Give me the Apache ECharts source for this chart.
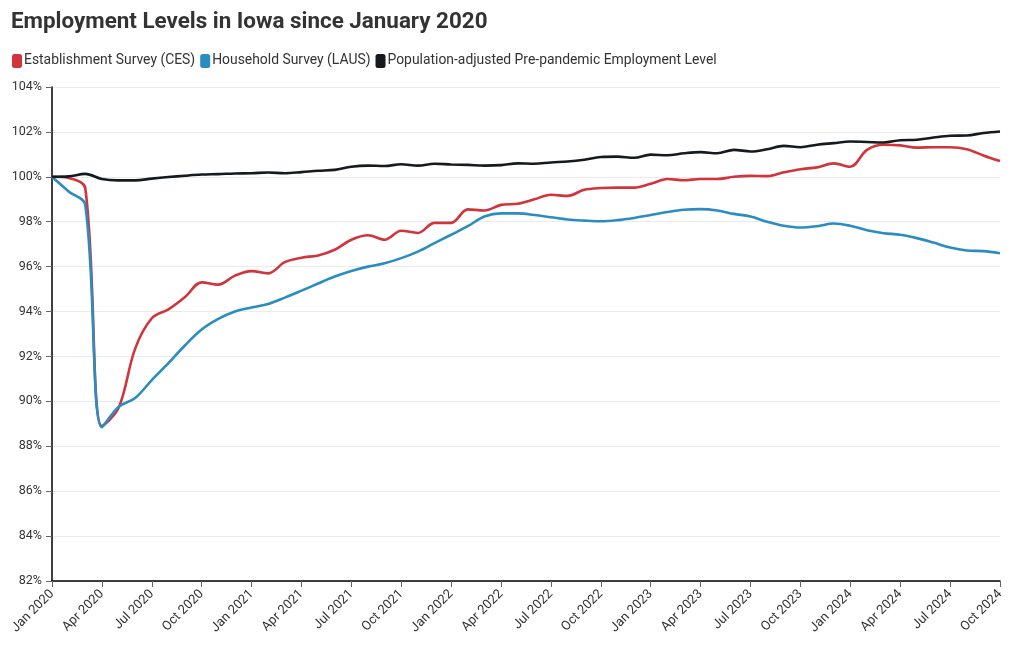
<!DOCTYPE html>
<html><head><meta charset="utf-8">
<script src="https://cdn.jsdelivr.net/npm/echarts@6/dist/echarts.min.js"></script>
<style>html,body{margin:0;padding:0;background:#fff}#c{width:1020px;height:650px}</style>
</head><body><div id="c"></div>
<script>
const months = ["Jan 2020","Feb 2020","Mar 2020","Apr 2020","May 2020","Jun 2020","Jul 2020","Aug 2020","Sep 2020","Oct 2020","Nov 2020","Dec 2020",
"Jan 2021","Feb 2021","Mar 2021","Apr 2021","May 2021","Jun 2021","Jul 2021","Aug 2021","Sep 2021","Oct 2021","Nov 2021","Dec 2021",
"Jan 2022","Feb 2022","Mar 2022","Apr 2022","May 2022","Jun 2022","Jul 2022","Aug 2022","Sep 2022","Oct 2022","Nov 2022","Dec 2022",
"Jan 2023","Feb 2023","Mar 2023","Apr 2023","May 2023","Jun 2023","Jul 2023","Aug 2023","Sep 2023","Oct 2023","Nov 2023","Dec 2023",
"Jan 2024","Feb 2024","Mar 2024","Apr 2024","May 2024","Jun 2024","Jul 2024","Aug 2024","Sep 2024","Oct 2024"];

const ces = [100.0,99.95,99.5,88.9,89.7,92.35,93.7,94.1,94.65,95.3,95.2,95.6,
95.8,95.7,96.2,96.4,96.5,96.75,97.2,97.4,97.2,97.6,97.5,97.95,
97.95,98.55,98.5,98.75,98.8,99.0,99.2,99.15,99.42,99.5,99.52,99.52,
99.69,99.9,99.85,99.9,99.9,100.0,100.04,100.03,100.2,100.34,100.42,100.6,
100.45,101.2,101.43,101.4,101.3,101.32,101.32,101.23,100.95,100.7];

const laus = [100.0,99.35,98.75,88.85,89.75,90.15,90.95,91.7,92.5,93.2,93.67,94.0,
94.18,94.34,94.62,94.93,95.25,95.56,95.81,96.0,96.15,96.38,96.67,97.05,
97.42,97.8,98.23,98.37,98.37,98.3,98.2,98.1,98.05,98.02,98.07,98.17,
98.3,98.43,98.53,98.56,98.5,98.35,98.23,98.0,97.82,97.74,97.8,97.92,
97.82,97.62,97.49,97.42,97.27,97.07,96.85,96.72,96.69,96.6];

const baseline = [100.0,100.02,100.13,99.9,99.84,99.84,99.92,99.99,100.05,100.1,100.12,100.15,
100.16,100.19,100.16,100.21,100.27,100.31,100.45,100.5,100.48,100.56,100.5,100.58,
100.55,100.53,100.5,100.52,100.6,100.58,100.64,100.68,100.76,100.88,100.9,100.85,
100.99,100.96,101.05,101.1,101.05,101.2,101.13,101.23,101.38,101.32,101.43,101.5,
101.57,101.55,101.53,101.63,101.65,101.75,101.83,101.84,101.95,102.02];

const seriesNames = ["Establishment Survey (CES)","Household Survey (LAUS)","Population-adjusted Pre-pandemic Employment Level"];
const colors = ["#d1343b","#2b8cc2","#161a1f"];
const yTicks = {min:82, max:104, step:2};

const chart = echarts.init(document.getElementById('c'), null, {renderer:'canvas'});
const font = 'Roboto, "Noto Sans", sans-serif';
const mk = (name, data, color) => ({
  name, type:'line', data, smooth:0.35, symbol:'none',
  lineStyle:{width:2.6, color}, itemStyle:{color}, z: 3
});
chart.setOption({
  animation:false,
  textStyle:{fontFamily:font},
  title:{text:"Employment Levels in Iowa since January 2020", left:6, top:6,
    textStyle:{fontFamily:font, fontSize:22.4, fontWeight:'bold', color:'#333'}},
  legend:{left:7, top:49, icon:'roundRect', itemWidth:10, itemHeight:14, itemGap:5,
    textStyle:{fontFamily:font, fontSize:13.9, color:'#333', padding:[0,0,0,-3]},
    data:seriesNames},
  grid:{left:52, right:20, top:87, bottom:69, containLabel:false},
  xAxis:{type:'category', data:months, boundaryGap:false,
    axisLine:{lineStyle:{color:'#000', width:1.5}},
    axisTick:{interval:2, length:6, lineStyle:{color:'#666'}},
    axisLabel:{interval:2, rotate:45, fontSize:13, color:'#333', margin:11, fontFamily:font},
    splitLine:{show:false}},
  yAxis:{type:'value', min:yTicks.min, max:yTicks.max, interval:yTicks.step,
    axisLine:{show:true, lineStyle:{color:'#000', width:1.5}},
    axisTick:{show:true, length:6, lineStyle:{color:'#666'}},
    axisLabel:{formatter:'{value}%', fontSize:12.5, color:'#333', margin:10, fontFamily:font},
    splitLine:{lineStyle:{color:'#ebebeb'}}},
  series:[mk(seriesNames[0], ces, colors[0]), mk(seriesNames[1], laus, colors[1]), mk(seriesNames[2], baseline, colors[2])]
});
</script></body></html>
